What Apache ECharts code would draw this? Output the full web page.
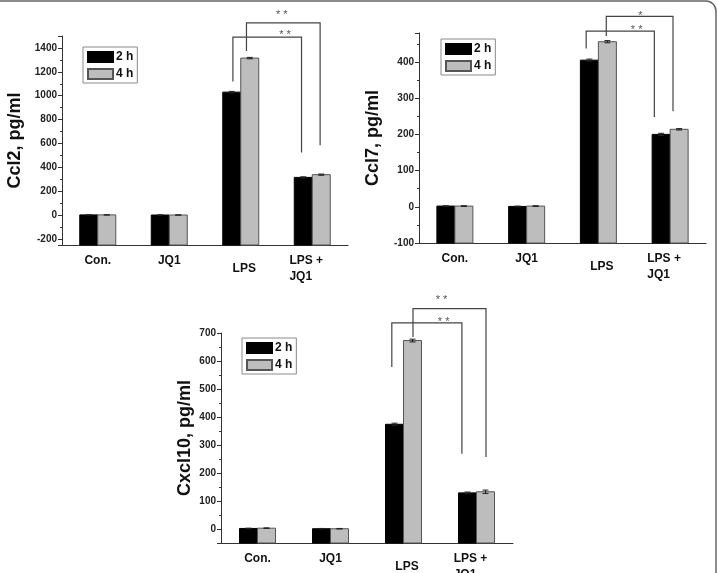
<!DOCTYPE html>
<html>
<head>
<meta charset="utf-8">
<script src="https://cdn.jsdelivr.net/npm/echarts@6/dist/echarts.min.js"></script>
<style>
  html, body { margin: 0; padding: 0; background: #fff; }
  #chart { width: 718px; height: 573px; }
</style>
</head>
<body>
<div id="chart"></div>
<script>
// Categories and series names
const groups = ['Con.', 'JQ1', 'LPS', 'LPS +\nJQ1'];
const seriesNames = ['2 h', '4 h'];

// Ccl2 (pg/ml)
const ccl2_2h = [2, 1, 1030, 316];
const ccl2_4h = [2, 1, 1315, 339];
const ccl2_err2h = [1, 1, 6, 5];
const ccl2_err4h = [1, 1, 6, 5];

// Ccl7 (pg/ml)
const ccl7_2h = [2, 1, 405, 200];
const ccl7_4h = [2, 2, 456, 214];
const ccl7_err2h = [1, 1, 3, 3];
const ccl7_err4h = [1, 1, 3, 2];

// Cxcl10 (pg/ml)
const cxcl10_2h = [2, 1, 374, 129];
const cxcl10_4h = [3, 1, 673, 133];
const cxcl10_err2h = [1, 1, 4, 3];
const cxcl10_err4h = [1, 1, 5, 6];

// significance brackets: x in category units, y in data units
const ccl2_brackets = [
  { x1: 1.89, y1: 1120, yTop: 1490, x2: 2.85, y2: 525, text: '* *', labelAt: 0.76, labelY: 1534 },
  { x1: 2.08, y1: 1375, yTop: 1610, x2: 3.11, y2: 585, text: '* *', labelAt: 0.48, labelY: 1703 }
];
const ccl7_brackets = [
  { x1: 1.83, y1: 437, yTop: 485, x2: 2.78, y2: 248, text: '* *', labelAt: 0.74, labelY: 496 },
  { x1: 2.11, y1: 472, yTop: 526, x2: 3.04, y2: 264, text: '*', labelAt: 0.51, labelY: 534 }
];
const cxcl10_brackets = [
  { x1: 1.84, y1: 579, yTop: 736, x2: 2.80, y2: 269, text: '* *', labelAt: 0.74, labelY: 751 },
  { x1: 2.13, y1: 686, yTop: 787, x2: 3.13, y2: 257, text: '* *', labelAt: 0.39, labelY: 827 }
];

const font = "'Liberation Sans', Arial, sans-serif";
const barW = 18;
const barStyles = [
  { color: '#000', borderColor: '#000', borderWidth: 1 },
  { color: '#bdbdbd', borderColor: '#555', borderWidth: 1 }
];

const panels = [
  { name: 'Ccl2, pg/ml', d2: ccl2_2h, d4: ccl2_4h, e2: ccl2_err2h, e4: ccl2_err4h, br: ccl2_brackets,
    min: -250, max: 1500, split: 8, step: 200, nameGap: 38,
    grid: { left: 62, top: 36, width: 286, height: 209 }, legend: { left: 83, top: 47 } },
  { name: 'Ccl7, pg/ml', d2: ccl7_2h, d4: ccl7_4h, e2: ccl7_err2h, e4: ccl7_err4h, br: ccl7_brackets,
    min: -100, max: 480, split: 6, step: 100, nameGap: 37,
    grid: { left: 419, top: 33, width: 287, height: 210 }, legend: { left: 441, top: 39 } },
  { name: 'Cxcl10, pg/ml', d2: cxcl10_2h, d4: cxcl10_4h, e2: cxcl10_err2h, e4: cxcl10_err4h, br: cxcl10_brackets,
    min: -50, max: 700, split: 7, step: 100, nameGap: 27,
    grid: { left: 221, top: 333, width: 292, height: 210 }, legend: { left: 242, top: 338 } }
];

const catData = groups.map(g => {
  if (g === 'LPS') return { value: g, textStyle: { padding: [8, 0, 0, 7] } };
  if (g.indexOf('\n') >= 0) return { value: g, textStyle: { padding: [0, 12, 0, 0] } };
  return g;
});

const grid = [], xAxis = [], yAxis = [], legend = [], series = [];

panels.forEach((p, k) => {
  grid.push(Object.assign({ outerBoundsMode: 'none', containLabel: false }, p.grid));
  legend.push({
    data: seriesNames,
    left: p.legend.left, top: p.legend.top,
    orient: 'vertical', icon: 'rect',
    itemWidth: 25, itemHeight: 10, itemGap: 5,
    padding: [4, 4, 3, 4],
    borderColor: '#8a8a8a', borderWidth: 1,
    selectedMode: false,
    textStyle: { fontFamily: font, fontSize: 12, fontWeight: 'bold', color: '#111', padding: [0, 0, 0, -2] }
  });
  // main x axis (ticks at group centres)
  xAxis.push({
    type: 'category', gridIndex: k, data: catData,
    axisLine: { onZero: false, lineStyle: { color: '#333', width: 1 } },
    axisTick: { alignWithLabel: true, inside: true, length: 3, lineStyle: { color: '#333' } },
    axisLabel: {
      interval: 0, margin: 8, fontFamily: font, fontSize: 12, fontWeight: 'bold', color: '#111', lineHeight: 16,
      formatter: v => v.indexOf('\n') >= 0 ? v.split('\n').map(s => '{l|' + s + '}').join('\n') : v,
      rich: { l: { align: 'left', fontFamily: font, fontSize: 12, fontWeight: 'bold', color: '#111', lineHeight: 16 } }
    }
  });
  // second x axis: only the ticks at category boundaries
  xAxis.push({
    type: 'category', gridIndex: k, data: groups,
    axisLine: { show: false, onZero: false },
    axisTick: { inside: true, length: 3, lineStyle: { color: '#333' } },
    axisLabel: { show: false }
  });
  yAxis.push({
    type: 'value', gridIndex: k, min: p.min, max: p.max, splitNumber: p.split,
    name: p.name, nameLocation: 'middle', nameGap: p.nameGap, nameRotate: 90,
    nameTextStyle: { fontFamily: font, fontSize: 18, fontWeight: 'bold', color: '#111' },
    axisLine: { show: true, lineStyle: { color: '#333', width: 1 } },
    axisTick: { show: true, length: 4, lineStyle: { color: '#333' } },
    minorTick: { show: true, splitNumber: 2, length: 2, lineStyle: { color: '#333' } },
    splitLine: { show: false },
    axisLabel: {
      margin: 5, fontFamily: font, fontSize: 10, fontWeight: 'bold', color: '#222',
      formatter: v => (v % p.step === 0 ? String(v) : '')
    }
  });

  const xi = k * 2;
  // bars rise from the bottom of the value axis, as in the original plot
  [p.d2, p.d4].forEach((vals, s) => {
    series.push({
      name: seriesNames[s], type: 'custom', xAxisIndex: xi, yAxisIndex: k, z: 3,
      itemStyle: barStyles[s],
      encode: { x: 0, y: 1 },
      data: vals.map((v, i) => [i, v]),
      renderItem: (params, api) => {
        const i = api.value(0), v = api.value(1);
        const base = api.coord([i, p.min]);
        const top = api.coord([i, v]);
        const x = base[0] + (s === 0 ? -barW : 0);
        return {
          type: 'rect',
          shape: { x: x, y: top[1], width: barW, height: base[1] - top[1] },
          style: { fill: barStyles[s].color, stroke: barStyles[s].borderColor, lineWidth: 1 }
        };
      }
    });
  });

  // error bars
  const errRows = [];
  groups.forEach((g, i) => {
    errRows.push([i, p.d2[i], p.e2[i], 0]);
    errRows.push([i, p.d4[i], p.e4[i], 1]);
  });
  series.push({
    type: 'custom', xAxisIndex: xi, yAxisIndex: k, silent: true, clip: false, z: 5,
    encode: { x: 0, y: 1 },
    data: errRows,
    renderItem: (params, api) => {
      const i = api.value(0), v = api.value(1), e = api.value(2), s = api.value(3);
      const top = api.coord([i, v + e]);
      const bot = api.coord([i, v - e]);
      const x = top[0] + (s === 0 ? -1 : 1) * barW / 2;
      const st = { stroke: '#222', lineWidth: 1 };
      return { type: 'group', children: [
        { type: 'line', shape: { x1: x, y1: top[1], x2: x, y2: bot[1] }, style: st },
        { type: 'line', shape: { x1: x - 3, y1: top[1], x2: x + 3, y2: top[1] }, style: st },
        { type: 'line', shape: { x1: x - 3, y1: bot[1], x2: x + 3, y2: bot[1] }, style: st }
      ] };
    }
  });

  // significance brackets
  series.push({
    type: 'custom', xAxisIndex: xi, yAxisIndex: k, silent: true, clip: false, z: 6,
    encode: { x: 0, y: 1 },
    data: p.br.map(b => [Math.round(b.x1), b.yTop]),
    renderItem: (params, api) => {
      const b = p.br[params.dataIndex];
      const band = api.size([1, 0])[0];
      const px = (x, y) => {
        const c = api.coord([Math.round(x), y]);
        return [c[0] + (x - Math.round(x)) * band, c[1]];
      };
      const a = px(b.x1, b.y1), t1 = px(b.x1, b.yTop), t2 = px(b.x2, b.yTop), z = px(b.x2, b.y2);
      const lab = px(b.x1 + (b.x2 - b.x1) * b.labelAt, b.labelY);
      return { type: 'group', children: [
        { type: 'polyline', shape: { points: [a, t1, t2, z] },
          style: { stroke: '#444', lineWidth: 1.2, fill: null } },
        { type: 'text', x: lab[0], y: lab[1] + 3,
          style: { text: b.text, fill: '#555', font: '11px ' + font, textAlign: 'center', textVerticalAlign: 'middle' } }
      ] };
    }
  });
});

const option = {
  animation: false,
  backgroundColor: '#fff',
  textStyle: { fontFamily: font },
  grid: grid,
  legend: legend,
  xAxis: xAxis,
  yAxis: yAxis,
  series: series,
  graphic: [{
    type: 'rect', silent: true,
    shape: { x: -20, y: 1, width: 736, height: 620, r: 10 },
    style: { fill: null, stroke: '#666', lineWidth: 1.5 }
  }]
};

const chart = echarts.init(document.getElementById('chart'));
chart.setOption(option);
</script>
</body>
</html>
